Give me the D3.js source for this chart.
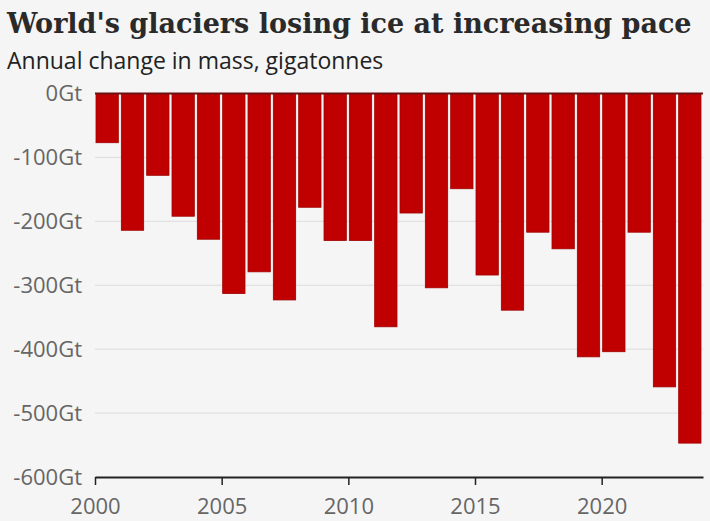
<!DOCTYPE html>
<html>
<head>
<meta charset="utf-8">
<script src="https://cdn.jsdelivr.net/npm/d3@7"></script>
<style>
  body { margin: 0; background: #f5f5f5; }
  svg { display: block; }
</style>
</head>
<body>
<svg width="710" height="521"></svg>
<script>
// data
const years = d3.range(2000, 2024);
const massChange = [-77, -214, -128, -192, -228, -313, -279, -323, -178, -230,
                    -230, -365, -187, -304, -149, -284, -339, -217, -243, -412,
                    -404, -217, -459, -547];
const yTicks = [0, -100, -200, -300, -400, -500, -600];
const xTicks = [2000, 2005, 2010, 2015, 2020];

const svg = d3.select("svg");
const margin = {top: 93.5, right: 7, bottom: 44, left: 95};
const width = 710, height = 521;

const x = d3.scaleLinear().domain([2000, 2024]).range([margin.left, width - margin.right]);
const y = d3.scaleLinear().domain([0, -600]).range([margin.top, height - margin.bottom]);

// title + subtitle
svg.append("text")
  .attr("x", 7).attr("y", 33)
  .attr("font-family", "'DejaVu Serif', serif")
  .attr("font-weight", "bold")
  .attr("font-size", 27)
  .attr("fill", "#2a2a2a")
  .text("World's glaciers losing ice at increasing pace");

svg.append("text")
  .attr("x", 7).attr("y", 69)
  .attr("font-family", "'Open Sans', sans-serif")
  .attr("font-size", 23)
  .attr("fill", "#222")
  .text("Annual change in mass, gigatonnes");

// gridlines
svg.append("g")
  .selectAll("line")
  .data(yTicks.slice(1, -1))
  .join("line")
    .attr("x1", x(2000)).attr("x2", x(2024))
    .attr("y1", d => y(d)).attr("y2", d => y(d))
    .attr("stroke", "#dcdcdc")
    .attr("stroke-width", 1);

// y labels
svg.append("g")
  .selectAll("text")
  .data(yTicks)
  .join("text")
    .attr("x", 82)
    .attr("y", d => y(d))
    .attr("dy", "0.36em")
    .attr("text-anchor", "end")
    .attr("font-family", "'Open Sans', sans-serif")
    .attr("font-size", 22)
    .attr("fill", "#666")
    .text(d => d + "Gt");

// bars
svg.append("g")
  .selectAll("rect")
  .data(years)
  .join("rect")
    .attr("x", d => x(d) + 1)
    .attr("width", x(2001) - x(2000) - 3)
    .attr("y", y(0))
    .attr("height", (d, i) => y(massChange[i]) - y(0))
    .attr("fill", "#c00000")
    .attr("stroke", "#a00000")
    .attr("stroke-width", 0.8);

// zero line
svg.append("line")
  .attr("x1", x(2000)).attr("x2", x(2024))
  .attr("y1", y(0)).attr("y2", y(0))
  .attr("stroke", "#6e1010")
  .attr("stroke-width", 2);

// x axis
const xAxis = svg.append("g")
  .attr("transform", `translate(0,${y(-600)})`)
  .call(d3.axisBottom(x).tickValues(xTicks).tickFormat(d3.format("d")).tickSize(8).tickSizeOuter(0));
xAxis.select(".domain").attr("stroke", "#222").attr("stroke-width", 2);
xAxis.selectAll(".tick line").attr("stroke", "#222").attr("stroke-width", 1.5);
xAxis.selectAll(".tick text")
  .attr("font-family", "'Open Sans', sans-serif")
  .attr("font-size", 22)
  .attr("fill", "#666")
  .attr("y", 37)
  .attr("dy", 0);
</script>
</body>
</html>
